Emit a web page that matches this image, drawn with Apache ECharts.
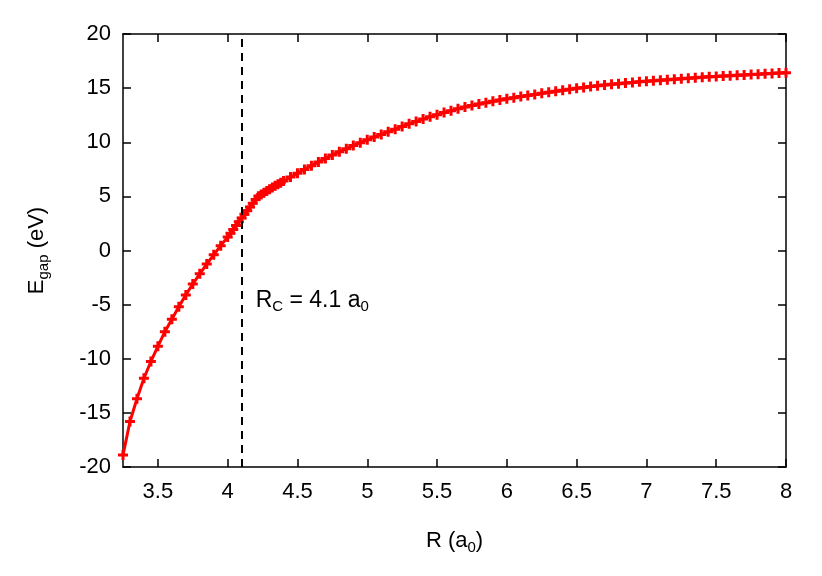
<!DOCTYPE html>
<html>
<head>
<meta charset="utf-8">
<script src="https://cdn.jsdelivr.net/npm/echarts@6/dist/echarts.min.js"></script>
<style>
  html, body { margin: 0; padding: 0; background: #fff; }
  #chart { width: 822px; height: 576px; }
</style>
</head>
<body>
<div id="chart"></div>
<script>
// R in units of a0
const rValues = [
    3.25, 3.30, 3.35, 3.40, 3.45, 3.50, 3.55, 3.60, 3.65, 3.70, 3.75, 3.80, 3.85, 3.90, 3.95,
    4.00, 4.02, 4.04, 4.06, 4.08, 4.10, 4.12, 4.14, 4.16, 4.18, 4.20, 4.22,
    4.24, 4.26, 4.28, 4.30, 4.32, 4.34, 4.36, 4.38, 4.40,
    4.45, 4.50, 4.55, 4.60, 4.65, 4.70, 4.75, 4.80, 4.85, 4.90, 4.95,
    5.00, 5.05, 5.10, 5.15, 5.20, 5.25, 5.30, 5.35, 5.40, 5.45,
    5.50, 5.55, 5.60, 5.65, 5.70, 5.75, 5.80, 5.85, 5.90, 5.95,
    6.00, 6.05, 6.10, 6.15, 6.20, 6.25, 6.30, 6.35, 6.40, 6.45,
    6.50, 6.55, 6.60, 6.65, 6.70, 6.75, 6.80, 6.85, 6.90, 6.95,
    7.00, 7.05, 7.10, 7.15, 7.20, 7.25, 7.30, 7.35, 7.40, 7.45,
    7.50, 7.55, 7.60, 7.65, 7.70, 7.75, 7.80, 7.85, 7.90, 7.95, 8.00,
]
// band gap in eV
const eGapValues = [
    -18.9, -15.8, -13.7, -11.8, -10.25, -8.85, -7.5, -6.35, -5.2, -4.1, -3.1, -2.15, -1.25, -0.4, 0.45,
    1.25, 1.60, 1.95, 2.30, 2.65, 3.00, 3.34, 3.68, 4.02, 4.36, 4.70, 5.02,
    5.18, 5.34, 5.50, 5.66, 5.82, 5.97, 6.12, 6.27, 6.42,
    6.78, 7.13, 7.48, 7.83, 8.17, 8.50, 8.82, 9.12, 9.41, 9.69, 9.96,
    10.22, 10.48, 10.72, 10.96, 11.20, 11.46, 11.70, 11.92, 12.14, 12.35,
    12.55, 12.74, 12.92, 13.09, 13.25, 13.40, 13.53, 13.66, 13.78, 13.90,
    14.01, 14.12, 14.22, 14.32, 14.42, 14.52, 14.62, 14.72, 14.81, 14.90,
    14.98, 15.06, 15.14, 15.21, 15.28, 15.35, 15.41, 15.47, 15.53, 15.58,
    15.63, 15.68, 15.73, 15.78, 15.83, 15.87, 15.92, 15.96, 16.00, 16.04,
    16.08, 16.12, 16.15, 16.19, 16.22, 16.26, 16.29, 16.33, 16.36, 16.39, 16.42,
]
const xTicks = [3.5, 4, 4.5, 5, 5.5, 6, 6.5, 7, 7.5, 8]
const yTicks = [-20, -15, -10, -5, 0, 5, 10, 15, 20]
const rCritical = 4.1

const font = "'Liberation Sans', Arial, Helvetica, sans-serif"
// bold "+" marker like gnuplot's pointtype 1
const plusPath = 'path://M3.5,0h3v3.5h3.5v3h-3.5v3.5h-3v-3.5h-3.5v-3h3.5z'

const axisLine = { onZero: false, lineStyle: { color: '#000', width: 1.5 } }
const axisTick = { inside: true, length: 8, lineStyle: { color: '#000', width: 1.5 } }
const subRich = {
    t: { fontSize: 22, color: '#000', fontFamily: font },
    s: { fontSize: 15, color: '#000', fontFamily: font, padding: [13, 0, 0, 0] },
}

var myChart = echarts.init(document.getElementById('chart'))
var option = {
    animation: false,
    textStyle: { fontFamily: font },
    grid: { left: 123, right: 36, top: 34, bottom: 109 },
    xAxis: [
        {
            type: 'value',
            min: 3.25,
            max: 8,
            position: 'bottom',
            name: '{t|R (a}{s|0}{t|)}',
            nameLocation: 'middle',
            nameGap: 60,
            nameTextStyle: { rich: subRich },
            axisLine: axisLine,
            axisTick: Object.assign({ customValues: xTicks }, axisTick),
            axisLabel: { customValues: xTicks, fontSize: 22, color: '#000', margin: 14 },
            splitLine: { show: false },
        },
        {
            type: 'value',
            min: 3.25,
            max: 8,
            position: 'top',
            axisLine: axisLine,
            axisTick: Object.assign({ customValues: xTicks }, axisTick),
            axisLabel: { show: false },
            splitLine: { show: false },
        },
    ],
    yAxis: [
        {
            type: 'value',
            min: -20,
            max: 20,
            position: 'left',
            name: '{t|E}{s|gap}{t| (eV)}',
            nameLocation: 'middle',
            nameRotate: 90,
            nameGap: 72,
            nameTextStyle: { rich: subRich },
            axisLine: axisLine,
            axisTick: Object.assign({ customValues: yTicks }, axisTick),
            axisLabel: { customValues: yTicks, fontSize: 22, color: '#000', margin: 12 },
            splitLine: { show: false },
        },
        {
            type: 'value',
            min: -20,
            max: 20,
            position: 'right',
            axisLine: axisLine,
            axisTick: Object.assign({ customValues: yTicks }, axisTick),
            axisLabel: { show: false },
            splitLine: { show: false },
        },
    ],
    series: [
        {
            type: 'line',
            xAxisIndex: 0,
            yAxisIndex: 0,
            data: rValues.map((r, i) => [r, eGapValues[i]]),
            symbol: plusPath,
            symbolSize: 10,
            showAllSymbol: true,
            lineStyle: { color: '#ff0000', width: 3 },
            itemStyle: { color: '#ff0000' },
            markLine: {
                silent: true,
                symbol: ['none', 'none'],
                label: { show: false },
                lineStyle: { color: '#000', type: [8, 6], width: 2 },
                data: [{ xAxis: rCritical }],
            },
            markPoint: {
                silent: true,
                symbol: 'circle',
                symbolSize: 0,
                data: [{ coord: [rCritical, -4.6] }],
                label: {
                    show: true,
                    position: 'right',
                    distance: 14,
                    formatter: '{t|R}{s|C}{t| = 4.1 a}{s|0}',
                    rich: {
                        t: { fontSize: 23, color: '#000', fontFamily: font },
                        s: { fontSize: 15, color: '#000', fontFamily: font, padding: [13, 0, 0, 0] },
                    },
                },
            },
        },
    ],
}
myChart.setOption(option)
</script>
</body>
</html>
